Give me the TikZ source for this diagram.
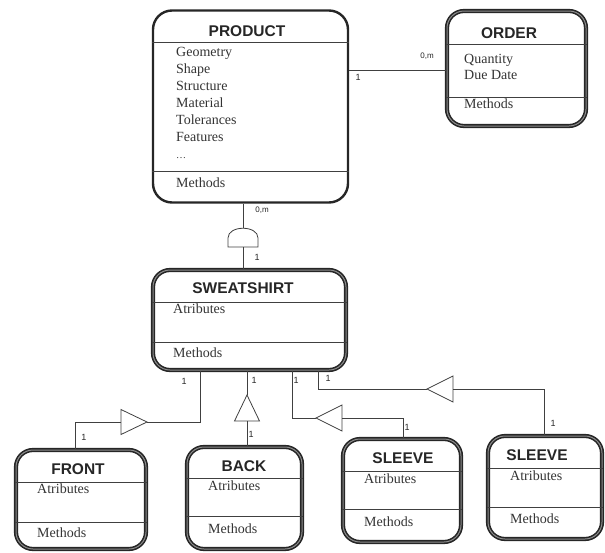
\documentclass[tikz,border=0pt]{standalone}
\usepackage{fontspec}
\setmainfont{Liberation Serif}
\newfontfamily\sansf{Liberation Sans}
\begin{document}
\begin{tikzpicture}[x=1pt,y=-1pt,
  cls/.style={draw=black!85, double=black!45, double distance=1pt, line width=1.6pt, rounded corners=17pt, inner sep=0pt},
  clsthin/.style={draw=black!85, line width=2.4pt, rounded corners=19pt, inner sep=0pt},
  sep/.style={draw=black!75, line width=0.8pt},
  conn/.style={draw=black!75, line width=0.8pt},
  ttl/.style={font=\sansf\bfseries\fontsize{15.5}{18}\selectfont, text=black!85, inner sep=0pt, anchor=base},
  itm/.style={font=\fontsize{14}{17}\selectfont, text=black!80, inner sep=0pt, anchor=base west},
  lbl/.style={font=\sansf\fontsize{9}{10}\selectfont, text=black!85, inner sep=0pt},
  slbl/.style={font=\sansf\fontsize{8}{9}\selectfont, text=black!85, inner sep=0pt}]
\useasboundingbox (0,0) rectangle (605,552);

% ---------- boxes ----------
\node[clsthin, minimum width=195pt, minimum height=192pt] (product) at (250.5,106.5) {};
\node[cls, minimum width=139pt, minimum height=115pt] (order) at (516.5,68.5) {};
\node[cls, minimum width=193pt, minimum height=100pt] (sweat) at (249.5,320) {};
\node[cls, minimum width=130pt, minimum height=99pt] (front) at (81,499.5) {};
\node[cls, minimum width=115pt, minimum height=102pt] (back) at (244.5,498) {};
\node[cls, minimum width=118pt, minimum height=103pt] (sleeveA) at (402,490.5) {};
\node[cls, minimum width=114pt, minimum height=103pt] (sleeveB) at (545,487.5) {};

% ---------- separators ----------
\coordinate (yP1) at (0,42); \coordinate (yP2) at (0,171);
\draw[sep] (product.west |- yP1) -- (product.east |- yP1);
\draw[sep] (product.west |- yP2) -- (product.east |- yP2);
\coordinate (yO1) at (0,44); \coordinate (yO2) at (0,97);
\draw[sep] (order.west |- yO1) -- (order.east |- yO1);
\draw[sep] (order.west |- yO2) -- (order.east |- yO2);
\coordinate (yS1) at (0,302); \coordinate (yS2) at (0,342);
\draw[sep] (sweat.west |- yS1) -- (sweat.east |- yS1);
\draw[sep] (sweat.west |- yS2) -- (sweat.east |- yS2);
\coordinate (yF1) at (0,482); \coordinate (yF2) at (0,522);
\draw[sep] (front.west |- yF1) -- (front.east |- yF1);
\draw[sep] (front.west |- yF2) -- (front.east |- yF2);
\coordinate (yB1) at (0,478); \coordinate (yB2) at (0,516);
\draw[sep] (back.west |- yB1) -- (back.east |- yB1);
\draw[sep] (back.west |- yB2) -- (back.east |- yB2);
\coordinate (yA1) at (0,471); \coordinate (yA2) at (0,509);
\draw[sep] (sleeveA.west |- yA1) -- (sleeveA.east |- yA1);
\draw[sep] (sleeveA.west |- yA2) -- (sleeveA.east |- yA2);
\coordinate (yC1) at (0,468); \coordinate (yC2) at (0,507);
\draw[sep] (sleeveB.west |- yC1) -- (sleeveB.east |- yC1);
\draw[sep] (sleeveB.west |- yC2) -- (sleeveB.east |- yC2);

% ---------- texts ----------
\node[ttl] (tP) at (247,36) {PRODUCT};
\node[itm] (p1) at (176,56) {Geometry};
\node[itm] (p2) at (176,73) {Shape};
\node[itm] (p3) at (176,90) {Structure};
\node[itm] (p4) at (176,107) {Material};
\node[itm] (p5) at (176,124) {Tolerances};
\node[itm] (p6) at (176,141) {Features};
\node[itm] (p7) at (176,158) {\fontsize{10}{12}\selectfont\dots};
\node[itm] (p8) at (176,187) {Methods};

\node[ttl] (tO) at (509,38) {ORDER};
\node[itm] (o1) at (464,63) {Quantity};
\node[itm] (o2) at (464,79) {Due Date};
\node[itm] (o3) at (464,108) {Methods};

\node[ttl] (tS) at (243,293) {SWEATSHIRT};
\node[itm] (s1) at (173,313) {Atributes};
\node[itm] (s2) at (173,357) {Methods};

\node[ttl] (tF) at (78,474) {FRONT};
\node[itm] (f1) at (37,493) {Atributes};
\node[itm] (f2) at (37,537) {Methods};

\node[ttl] (tB) at (244,471) {BACK};
\node[itm] (b1) at (208,490) {Atributes};
\node[itm] (b2) at (208,533) {Methods};

\node[ttl] (tA) at (403,463) {SLEEVE};
\node[itm] (a1) at (364,483) {Atributes};
\node[itm] (a2) at (364,526) {Methods};

\node[ttl] (tC) at (537,460) {SLEEVE};
\node[itm] (c1) at (510,480) {Atributes};
\node[itm] (c2) at (510,523) {Methods};

% ---------- product - order ----------
\coordinate (yPO) at (0,70);
\draw[conn] (product.east |- yPO) -- (order.west |- yPO);
\node[lbl] at (358,77) {1};
\node[slbl] at (427,56) {0,m};

% ---------- product - sweatshirt (aggregation) ----------
\coordinate (dtop) at (243,228);
\coordinate (dbot) at (243,247);
\draw[conn] (product.south -| dtop) -- (dtop);
\draw[conn] (228,247) -- (228,238) .. controls (228,225) and (258,225) .. (258,238) -- (258,247) -- cycle;
\draw[conn] (dbot) -- (sweat.north -| dbot);
\node[slbl] at (262,210) {0,m};
\node[lbl] at (257,257) {1};

% ---------- sweatshirt - front ----------
\coordinate (fa) at (200,422);
\coordinate (t1tip) at (147,422);
\coordinate (t1base) at (121,422);
\coordinate (fb) at (75,422);
\draw[conn] (sweat.south -| fa) -- (fa) -- (t1tip);
\draw[conn] (t1tip) -- (121,409.5) -- (121,434.5) -- cycle;
\draw[conn] (t1base) -- (fb) -- (front.north -| fb);
\node[lbl] at (184,381) {1};
\node[lbl] at (84,437) {1};

% ---------- sweatshirt - back ----------
\coordinate (t2tip) at (247,395);
\coordinate (t2base) at (247,421);
\draw[conn] (sweat.south -| t2tip) -- (t2tip);
\draw[conn] (t2tip) -- (234.5,421) -- (259.5,421) -- cycle;
\draw[conn] (t2base) -- (back.north -| t2base);
\node[lbl] at (254,380) {1};
\node[lbl] at (251,434) {1};

% ---------- sweatshirt - sleeve A ----------
\coordinate (sa) at (292,418);
\coordinate (t3tip) at (316,418);
\coordinate (t3base) at (342,418);
\coordinate (sb) at (403,418);
\draw[conn] (sweat.south -| sa) -- (sa) -- (t3tip);
\draw[conn] (t3tip) -- (342,405) -- (342,431) -- cycle;
\draw[conn] (t3base) -- (sb) -- (sleeveA.north -| sb);
\node[lbl] at (296,380) {1};
\node[lbl] at (407,427) {1};

% ---------- sweatshirt - sleeve B ----------
\coordinate (sc) at (318,389);
\coordinate (t4tip) at (427,389);
\coordinate (t4base) at (453,389);
\coordinate (sd) at (544,389);
\draw[conn] (sweat.south -| sc) -- (sc) -- (t4tip);
\draw[conn] (t4tip) -- (453,376) -- (453,402) -- cycle;
\draw[conn] (t4base) -- (sd) -- (sleeveB.north -| sd);
\node[lbl] at (328,378) {1};
\node[lbl] at (553,423) {1};
\end{tikzpicture}
\end{document}
